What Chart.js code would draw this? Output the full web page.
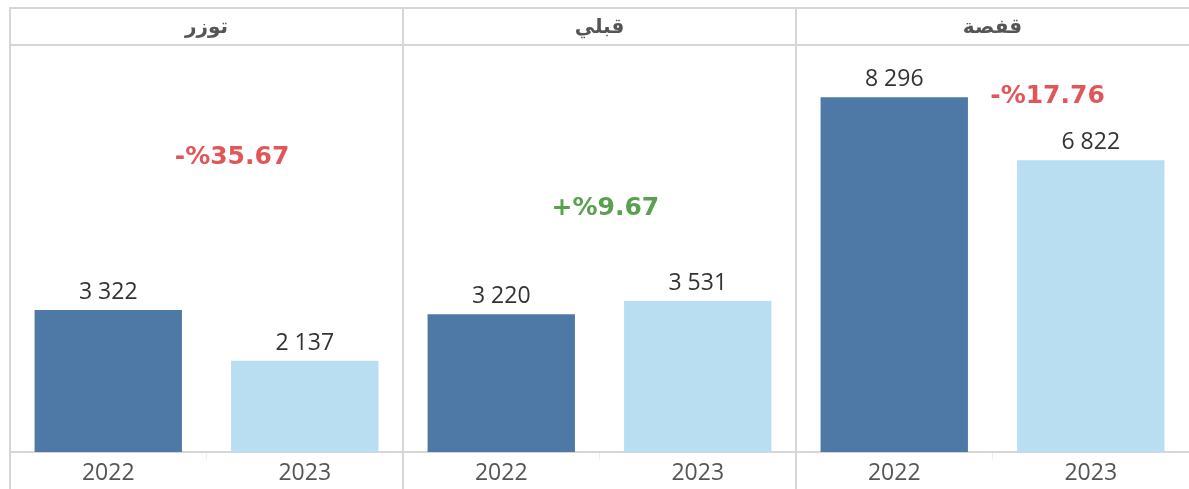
<!DOCTYPE html>
<html><head><meta charset="utf-8">
<script src="https://cdn.jsdelivr.net/npm/chart.js@4.4.1/dist/chart.umd.min.js"></script>
<style>html,body{margin:0;padding:0;background:#fff;overflow:hidden}#wrap{width:1189px;height:489px;position:relative}</style>
</head><body><div id="wrap"><canvas id="c" width="1189" height="489"></canvas></div>
<script>
// ---- data ----
const regions = ['توزر', 'قبلي', 'قفصة'];
const years = ['2022', '2023'];
const values2022 = [3322, 3220, 8296];
const values2023 = [2137, 3531, 6822];
const changeLabels = ['-%35.67', '+%9.67', '-%17.76'];
const changeIsUp = [false, true, false];

// ---- derived for chart ----
const barLabels = regions.flatMap(() => years);
const barValues = regions.flatMap((r, i) => [values2022[i], values2023[i]]);
const COLOR_2022 = '#4e79a7', COLOR_2023 = '#b9ddf1';
const barColors = barValues.map((v, i) => i % 2 === 0 ? COLOR_2022 : COLOR_2023);
const LINE = '#d6d6d6';

function fmt(v) { return String(v).replace(/\B(?=(\d{3})+(?!\d))/g, ' '); }

const framePlugin = {
  id: 'frame',
  afterDraw(chart) {
    const ctx = chart.ctx, x = chart.scales.x, x2 = chart.scales.x2;
    ctx.save();
    ctx.strokeStyle = LINE; ctx.lineWidth = 2;
    ctx.beginPath();
    ctx.moveTo(x.left - 1, x2.top + 1); ctx.lineTo(chart.width, x2.top + 1);
    for (let k = 0; k < regions.length; k++) {
      const px = Math.round(x.getPixelForValue(2 * k - 0.5));
      ctx.moveTo(px, x2.top); ctx.lineTo(px, chart.height);
    }
    ctx.stroke();
    ctx.restore();
  }
};

const valueLabelPlugin = {
  id: 'valueLabels',
  afterDatasetsDraw(chart, args, opts) {
    const ctx = chart.ctx, meta = chart.getDatasetMeta(0);
    ctx.save();
    ctx.font = '23px "Open Sans"';
    ctx.fillStyle = '#333';
    ctx.textAlign = 'center'; ctx.textBaseline = 'alphabetic';
    meta.data.forEach((el, i) => ctx.fillText(fmt(barValues[i]), el.x, el.y - 11));
    // change annotations
    const xs = chart.scales.x, ys = chart.scales.y;
    ctx.font = 'bold 25px "DejaVu Sans"';
    ctx.textBaseline = 'middle';
    changeLabels.forEach((t, i) => {
      const a = opts.anchors[i];
      ctx.fillStyle = changeIsUp[i] ? '#59a14f' : '#e15759';
      ctx.fillText(t, xs.getPixelForValue(a.x), ys.getPixelForValue(a.y));
    });
    ctx.restore();
  }
};

new Chart(document.getElementById('c'), {
  type: 'bar',
  data: {
    labels: barLabels,
    datasets: [{ data: barValues, backgroundColor: barColors, borderWidth: 0,
      barPercentage: 0.75, categoryPercentage: 1.0 }]
  },
  plugins: [framePlugin, valueLabelPlugin],
  options: {
    responsive: false, animation: false, devicePixelRatio: 1,
    layout: { padding: { top: 7, left: 10, right: 0, bottom: 0 } },
    plugins: {
      legend: { display: false }, tooltip: { enabled: false },
      valueLabels: { anchors: [ {x: 0.63, y: 6890}, {x: 2.53, y: 5700}, {x: 4.78, y: 8320} ] }
    },
    scales: {
      x: {
        position: 'bottom', offset: true,
        grid: { display: true, drawOnChartArea: false, drawTicks: true, tickLength: 8, offset: true,
          tickColor: (c) => (c.index % 2 === 1 ? '#eeeeee' : 'rgba(0,0,0,0)'), tickWidth: 1 },
        border: { display: true, color: LINE, width: 2 },
        ticks: { color: '#555', font: { family: 'Open Sans', size: 23 }, padding: 0, maxRotation: 0, autoSkip: false },
        afterFit: (s) => { s.height = 37; }
      },
      x2: {
        type: 'category', labels: regions, position: 'top', offset: true,
        grid: { display: false },
        border: { display: true, color: LINE, width: 2 },
        ticks: { color: '#555', font: { family: 'DejaVu Sans', size: 20, weight: 'bold' }, padding: -3, maxRotation: 0 },
        afterFit: (s) => { s.height = 38; }
      },
      y: { display: false, min: 0, max: 9520 }
    }
  }
});
</script></body></html>
